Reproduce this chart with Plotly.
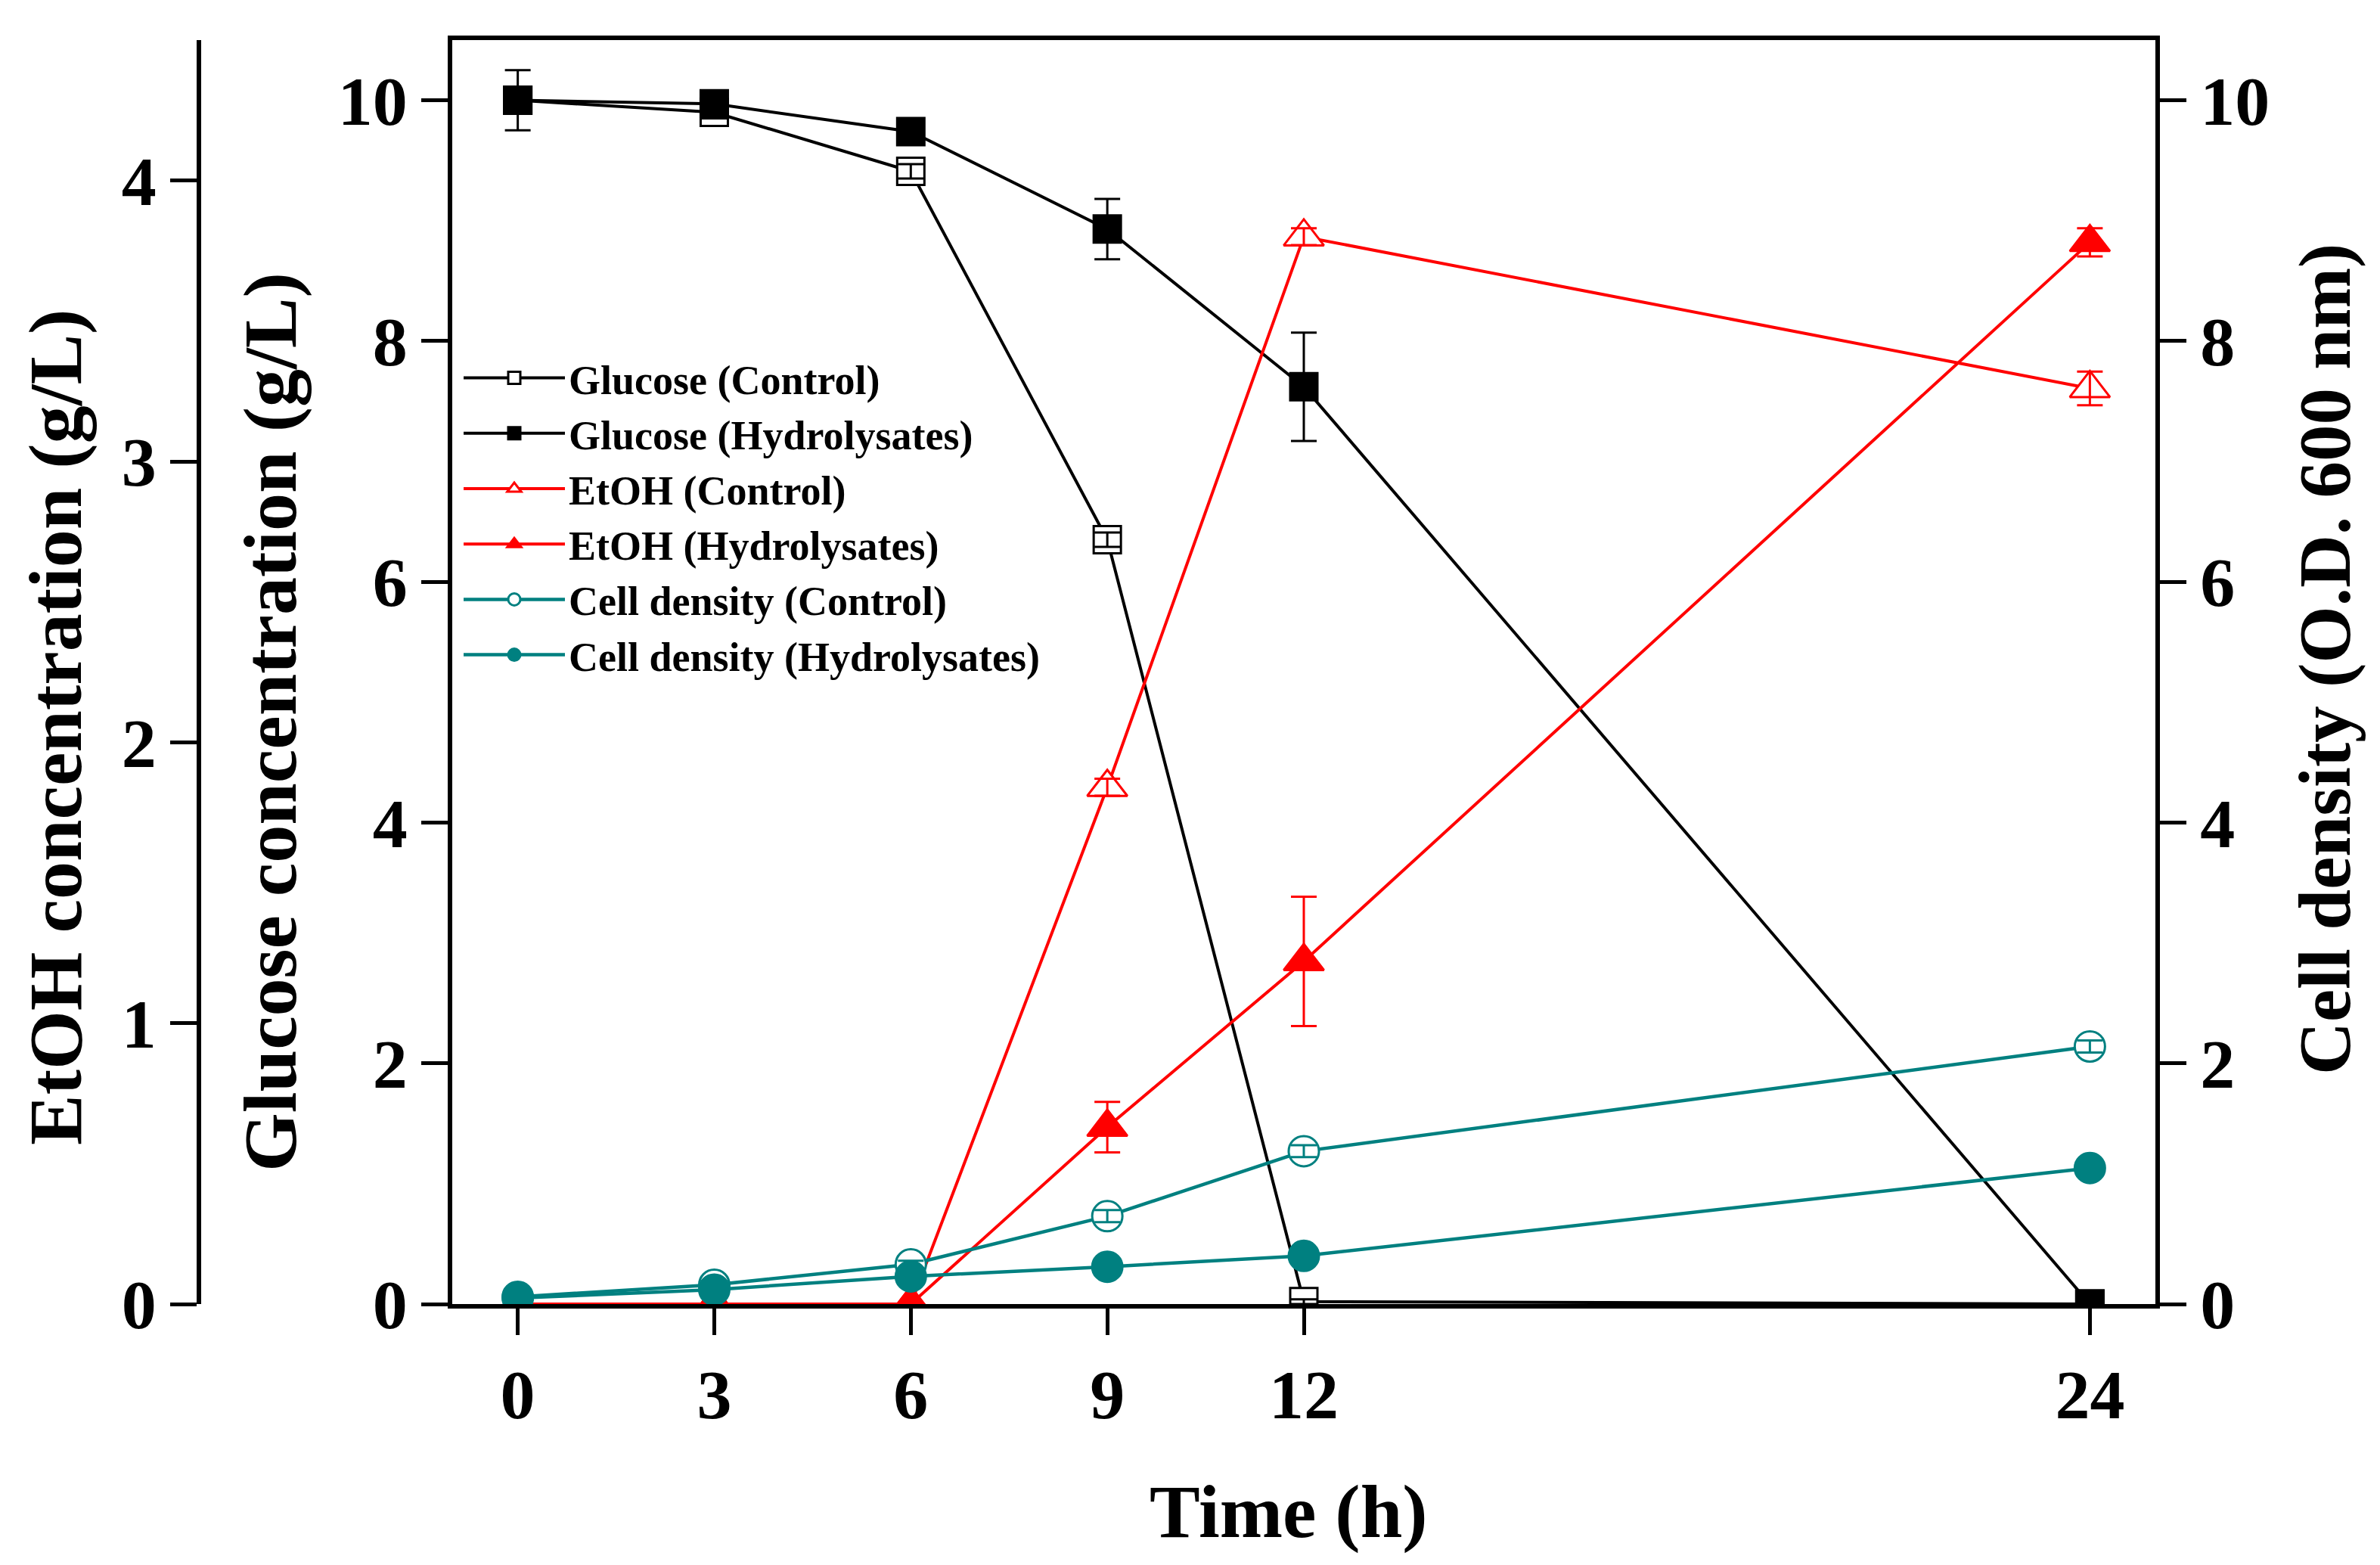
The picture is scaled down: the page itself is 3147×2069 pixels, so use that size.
import plotly.graph_objects as go

# ---------------- data ----------------
time_h = [0, 3, 6, 9, 12, 24]
x_ticks = [0, 3, 6, 9, 12, 24]

glucose_control = [10.0, 9.90, 9.41, 6.35, 0.02, 0.0]
glucose_control_err = [0.05, 0.05, 0.06, 0.06, 0.02, 0.0]
glucose_hydro = [10.0, 9.97, 9.74, 8.93, 7.62, 0.0]
glucose_hydro_err = [0.25, 0.03, 0.05, 0.25, 0.45, 0.0]

etoh_control = [0.0, 0.0, 0.0, 1.84, 3.80, 3.26]
etoh_control_err = [0.0, 0.0, 0.0, 0.03, 0.03, 0.06]
etoh_hydro = [0.0, 0.0, 0.0, 0.63, 1.22, 3.78]
etoh_hydro_err = [0.0, 0.0, 0.0, 0.09, 0.23, 0.05]

cell_control = [0.06, 0.16, 0.33, 0.73, 1.27, 2.14]
cell_control_err = [0.02, 0.03, 0.03, 0.05, 0.05, 0.05]
cell_hydro = [0.05, 0.12, 0.23, 0.31, 0.40, 1.13]
cell_hydro_err = [0.01, 0.02, 0.02, 0.02, 0.03, 0.03]

glucose_ticks = [0, 2, 4, 6, 8, 10]
etoh_ticks = [0, 1, 2, 3, 4]
cell_ticks = [0, 2, 4, 6, 8, 10]

# ---------------- style ----------------
W, H = 3147, 2069
ML, MR, MT, MB = 255, 305, 45, 353
PW, PH = W - ML - MR, H - MT - MB
PLOT_LEFT_PX = 590
FONT = "Liberation Serif"
BLACK = "#000000"
RED = "#FF0000"
TEAL = "#008080"
TICK_SIZE = 92
TITLE_SIZE = 100

fig = go.Figure()


def add_series(name, y, err, yaxis, color, symbol, filled, lw):
    fill = color if filled else "white"
    size = 36 if symbol == "square" else (46 if "triangle" in symbol else 40)
    fig.add_trace(go.Scatter(
        x=time_h, y=y, name=name, yaxis=yaxis, mode="lines+markers",
        line=dict(color=color, width=lw),
        marker=dict(symbol=symbol, size=size, color=fill, line=dict(color=color, width=3)),
        cliponaxis=True,
    ))
    # error bars drawn on top of the markers
    fig.add_trace(go.Scatter(
        x=time_h, y=y, yaxis=yaxis, mode="markers", showlegend=False, hoverinfo="skip",
        marker=dict(size=1, color="rgba(0,0,0,0)"),
        error_y=dict(type="data", array=err, visible=True, color=color, thickness=3, width=17),
        cliponaxis=True,
    ))


add_series("Glucose (Control)", glucose_control, glucose_control_err, "y", BLACK, "square", False, 4)
add_series("Glucose (Hydrolysates)", glucose_hydro, glucose_hydro_err, "y", BLACK, "square", True, 4)
add_series("EtOH (Control)", etoh_control, etoh_control_err, "y2", RED, "triangle-up", False, 4)
add_series("EtOH (Hydrolysates)", etoh_hydro, etoh_hydro_err, "y2", RED, "triangle-up", True, 4)
add_series("Cell density (Control)", cell_control, cell_control_err, "y3", TEAL, "circle", False, 4.5)
add_series("Cell density (Hydrolysates)", cell_hydro, cell_hydro_err, "y3", TEAL, "circle", True, 4.5)

x0 = (PLOT_LEFT_PX - ML) / PW

axis_common = dict(
    showgrid=False, zeroline=False, showline=True, linecolor=BLACK, linewidth=5.5,
    ticks="outside", ticklen=35, tickwidth=5, tickcolor=BLACK,
    tickfont=dict(family=FONT, size=TICK_SIZE, color=BLACK, weight="bold"),
)

fig.update_layout(
    width=W, height=H,
    margin=dict(l=ML, r=MR, t=MT, b=MB, autoexpand=False),
    paper_bgcolor="white", plot_bgcolor="white",
    font=dict(family=FONT, color=BLACK),
    xaxis=dict(**axis_common, domain=[x0, 1], range=[-1, 25], tickvals=x_ticks,
               mirror=True, anchor="y"),
    yaxis=dict(**axis_common, range=[0, 10.5], tickvals=glucose_ticks, anchor="x", side="left"),
    yaxis2=dict(**axis_common, range=[0, 4.5], tickvals=etoh_ticks, overlaying="y",
                anchor="free", position=0, side="left"),
    yaxis3=dict(**axis_common, range=[0, 10.5], tickvals=cell_ticks, overlaying="y",
                anchor="x", side="right"),
    legend=dict(
        x=(600 - ML) / PW, y=(1716 - 450) / PH,
        xanchor="left", yanchor="top", bgcolor="rgba(0,0,0,0)",
        font=dict(family=FONT, size=54, color=BLACK, weight="bold"),
        itemwidth=134, tracegroupgap=0,
    ),
    showlegend=True,
)

# axis titles placed as in the reference
axis_titles = [
    ("EtOH concentration (g/L)", 66, 954, TITLE_SIZE, -90),
    ("Glucose concentration (g/L)", 349, 947, TITLE_SIZE, -90),
    ("Cell density (O.D. 600 nm)", 3066, 864, 97, -90),
    ("Time (h)", 1696, 1990, TITLE_SIZE, 0),
]
for text, cx, cy, fs, ang in axis_titles:
    fig.add_annotation(
        text=text, textangle=ang, showarrow=False,
        xref="paper", yref="paper",
        x=(cx - ML) / PW, y=(H - MB - cy) / PH,
        xanchor="center", yanchor="middle",
        font=dict(family=FONT, size=fs, color=BLACK, weight="bold"),
    )

fig.write_html("out.html")
